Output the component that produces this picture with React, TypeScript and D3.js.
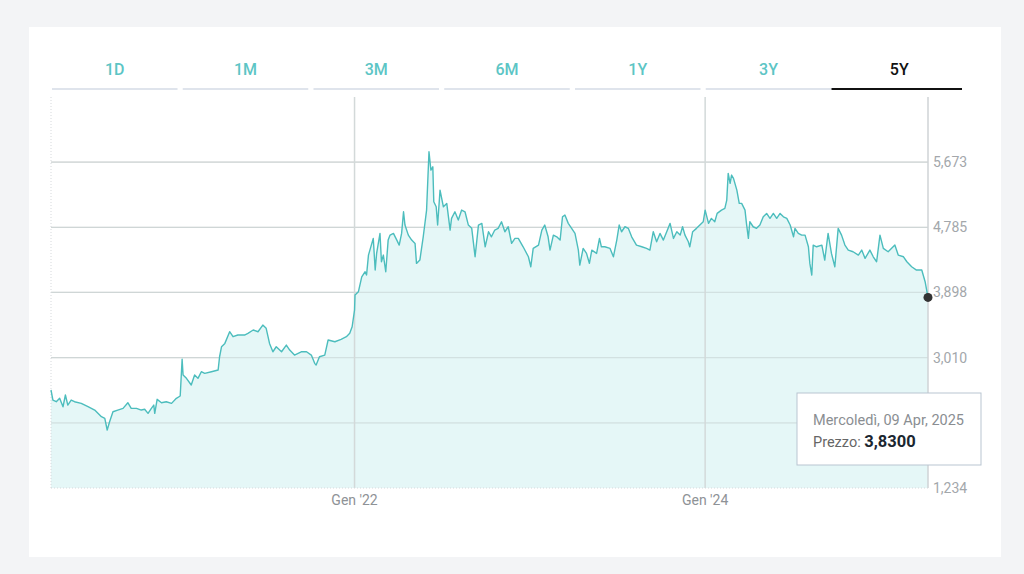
import { useEffect, useRef } from "react";
import * as d3 from "d3";

// Periods shown in the tab bar
const PERIODS = ["1D", "1M", "3M", "6M", "1Y", "3Y", "5Y"];
const ACTIVE_PERIOD = "5Y";

// Price history (date, price)
const DATES = [
  "2020-04-09", "2020-04-13", "2020-04-20", "2020-04-27", "2020-05-04", "2020-05-09", "2020-05-14", "2020-05-21", "2020-05-28", "2020-06-11",
  "2020-06-25", "2020-07-09", "2020-07-23", "2020-07-30", "2020-08-04", "2020-08-09", "2020-08-16", "2020-08-26", "2020-09-06", "2020-09-16",
  "2020-09-23", "2020-10-04", "2020-10-14", "2020-10-21", "2020-10-28", "2020-11-04", "2020-11-09", "2020-11-11", "2020-11-16", "2020-11-25",
  "2020-12-05", "2020-12-16", "2020-12-26", "2021-01-03", "2021-01-07", "2021-01-09", "2021-01-16", "2021-01-26", "2021-02-02", "2021-02-09",
  "2021-02-16", "2021-02-23", "2021-03-09", "2021-03-23", "2021-03-26", "2021-03-30", "2021-04-06", "2021-04-16", "2021-04-23", "2021-05-03",
  "2021-05-17", "2021-05-24", "2021-06-04", "2021-06-14", "2021-06-24", "2021-07-01", "2021-07-08", "2021-07-15", "2021-07-22", "2021-08-02",
  "2021-08-12", "2021-08-19", "2021-08-29", "2021-09-12", "2021-09-23", "2021-10-03", "2021-10-10", "2021-10-13", "2021-10-20", "2021-10-31",
  "2021-11-07", "2021-11-21", "2021-12-04", "2021-12-15", "2021-12-22", "2021-12-27", "2022-01-01",
  "2022-01-02", "2022-01-09", "2022-01-16", "2022-01-23", "2022-01-26", "2022-01-30", "2022-02-02", "2022-02-09", "2022-02-13", "2022-02-16",
  "2022-02-23", "2022-02-26", "2022-03-02", "2022-03-07", "2022-03-12", "2022-03-16", "2022-03-23", "2022-03-30", "2022-04-04", "2022-04-09",
  "2022-04-13", "2022-04-16", "2022-04-23", "2022-04-30", "2022-05-07", "2022-05-10", "2022-05-17", "2022-05-24", "2022-05-31", "2022-06-05",
  "2022-06-09", "2022-06-13", "2022-06-15", "2022-06-20", "2022-06-23", "2022-06-28", "2022-07-05", "2022-07-12", "2022-07-19", "2022-07-22",
  "2022-07-29", "2022-08-05", "2022-08-12", "2022-08-19", "2022-08-26", "2022-09-02", "2022-09-09", "2022-09-16", "2022-09-23", "2022-09-30",
  "2022-10-07", "2022-10-13", "2022-10-20", "2022-10-27", "2022-11-03", "2022-11-10", "2022-11-17", "2022-11-24", "2022-12-01", "2022-12-08",
  "2022-12-18", "2022-12-29", "2023-01-03", "2023-01-08", "2023-01-19", "2023-01-26", "2023-02-01", "2023-02-08", "2023-02-12", "2023-02-19",
  "2023-02-26", "2023-03-05", "2023-03-10", "2023-03-15", "2023-03-22", "2023-03-29", "2023-04-05", "2023-04-12", "2023-04-15", "2023-04-22",
  "2023-04-29", "2023-05-05", "2023-05-10", "2023-05-20", "2023-05-26", "2023-05-30", "2023-06-06", "2023-06-17", "2023-06-24", "2023-07-01",
  "2023-07-06", "2023-07-11", "2023-07-18", "2023-07-25", "2023-08-01", "2023-08-11", "2023-08-22", "2023-09-01", "2023-09-08",
  "2023-09-15", "2023-09-22", "2023-09-29", "2023-10-06", "2023-10-13", "2023-10-20", "2023-10-27", "2023-11-03", "2023-11-10", "2023-11-15",
  "2023-11-20", "2023-11-27", "2023-11-30", "2023-12-06", "2023-12-14", "2023-12-21", "2023-12-28", "2024-01-01", "2024-01-08", "2024-01-14",
  "2024-01-21", "2024-01-26", "2024-02-04", "2024-02-11", "2024-02-15", "2024-02-18", "2024-02-22", "2024-02-25", "2024-02-29", "2024-03-07",
  "2024-03-12", "2024-03-17", "2024-03-24", "2024-03-27", "2024-03-31", "2024-04-03", "2024-04-10", "2024-04-17", "2024-04-24", "2024-05-01",
  "2024-05-08", "2024-05-15", "2024-05-22", "2024-05-29", "2024-06-05", "2024-06-12", "2024-06-19", "2024-06-26", "2024-07-03", "2024-07-06",
  "2024-07-13", "2024-07-20", "2024-07-27", "2024-08-03", "2024-08-06", "2024-08-10", "2024-08-13", "2024-08-20", "2024-08-31", "2024-09-06",
  "2024-09-13", "2024-09-20", "2024-09-27", "2024-10-04", "2024-10-11", "2024-10-18", "2024-10-25", "2024-11-04", "2024-11-15", "2024-11-22",
  "2024-11-29", "2024-12-09", "2024-12-16", "2024-12-23", "2024-12-30", "2025-01-06", "2025-01-16", "2025-01-30", "2025-02-06", "2025-02-17",
  "2025-02-24", "2025-03-06", "2025-03-16", "2025-03-27", "2025-04-03", "2025-04-09",
];

const PRICES = [
  2.569, 2.432, 2.409, 2.456, 2.341, 2.501, 2.364, 2.432, 2.409, 2.387,
  2.341, 2.296, 2.205, 2.183, 2.024, 2.137, 2.273, 2.296, 2.319, 2.396,
  2.319, 2.319, 2.296, 2.306, 2.251, 2.319, 2.364, 2.251, 2.442, 2.396,
  2.409, 2.387, 2.456, 2.487, 2.987, 2.773, 2.728, 2.637, 2.773, 2.728,
  2.818, 2.796, 2.818, 2.841, 3.022, 3.158, 3.204, 3.363, 3.295, 3.318,
  3.318, 3.341, 3.386, 3.363, 3.454, 3.409, 3.204, 3.090, 3.158, 3.090,
  3.181, 3.113, 3.045, 3.090, 3.090, 3.045, 2.932, 2.909, 3.022, 3.045,
  3.250, 3.226, 3.259, 3.295, 3.341, 3.431, 3.658,
  3.862, 3.907, 4.111, 4.180, 4.135, 4.407, 4.475, 4.634, 4.203, 4.430,
  4.702, 4.316, 4.407, 4.180, 4.611, 4.679, 4.702, 4.611, 4.543, 4.702,
  4.997, 4.816, 4.679, 4.611, 4.566, 4.294, 4.339, 4.656, 5.020, 5.814,
  5.565, 5.610, 5.133, 5.065, 4.816, 5.292, 5.065, 5.111, 4.748, 4.907,
  4.997, 4.884, 5.020, 4.997, 4.816, 4.771, 4.384, 4.816, 4.839, 4.520,
  4.725, 4.656, 4.748, 4.771, 4.861, 4.725, 4.793, 4.566, 4.634, 4.634,
  4.520, 4.384, 4.248, 4.498, 4.543, 4.748, 4.816, 4.656, 4.475, 4.679,
  4.656, 4.611, 4.929, 4.952, 4.839, 4.771, 4.702, 4.475, 4.271, 4.498,
  4.430, 4.294, 4.475, 4.430, 4.634, 4.520, 4.520, 4.498, 4.384, 4.611,
  4.816, 4.725, 4.793, 4.771, 4.656, 4.543, 4.520, 4.498, 4.475,
  4.725, 4.589, 4.702, 4.611, 4.725, 4.839, 4.634, 4.725, 4.679, 4.793,
  4.679, 4.589, 4.520, 4.725, 4.771, 4.816, 4.861, 5.020, 4.839, 4.907,
  4.861, 4.975, 5.020, 5.043, 5.156, 5.520, 5.384, 5.497, 5.452, 5.292,
  5.111, 5.111, 5.020, 4.839, 4.634, 4.861, 4.793, 4.771, 4.816, 4.929,
  4.975, 4.907, 4.975, 4.907, 4.975, 4.929, 4.907, 4.816, 4.656, 4.771,
  4.702, 4.679, 4.679, 4.520, 4.294, 4.135, 4.543, 4.520, 4.543, 4.339,
  4.702, 4.430, 4.248, 4.771, 4.679, 4.543, 4.475, 4.452, 4.407, 4.475,
  4.362, 4.475, 4.384, 4.316, 4.679, 4.498, 4.452, 4.543, 4.407, 4.384,
  4.316, 4.248, 4.203, 4.203, 4.044, 3.83,
];

const Y_TICKS = [1.234, 2.122, 3.010, 3.898, 4.785, 5.673];
// 2,122 sits under the tooltip, so its label is not drawn
const Y_LABELS = [1.234, 3.010, 3.898, 4.785, 5.673];
const X_TICKS = ["2022-01-01", "2024-01-01"];
const X_DOMAIN = ["2020-04-09", "2025-04-09"];
const Y_DOMAIN = [1.234, 6.5605];

const TOOLTIP_DATE = "Mercoledì, 09 Apr, 2025";
const TOOLTIP_LABEL = "Prezzo:";

const TEAL = "#4cbdbd";
const FONT = "Roboto, 'Noto Sans', sans-serif";

const itLocale = d3.formatLocale({ decimal: ",", thousands: ".", grouping: [3], currency: ["€", ""] });
const fmtTick = itLocale.format(".3f");
const fmtPrice = itLocale.format(".4f");
const monthsIt = ["Gen", "Feb", "Mar", "Apr", "Mag", "Giu", "Lug", "Ago", "Set", "Ott", "Nov", "Dic"];

export default function App() {
  const svgRef = useRef<SVGSVGElement>(null);

  useEffect(() => {
    if (!svgRef.current) return;
    const svg = d3.select(svgRef.current);
    svg.selectAll("*").remove();

    const parse = d3.utcParse("%Y-%m-%d");
    const data = DATES.map((d, i) => ({ date: parse(d)!, value: PRICES[i] }));

    const plot = { left: 51, right: 928, top: 97, bottom: 488 };

    // page + card
    svg.append("rect").attr("width", 1024).attr("height", 574).attr("fill", "#f3f4f6");
    svg.append("rect").attr("x", 29).attr("y", 27).attr("width", 972).attr("height", 530).attr("fill", "#fff");

    // tabs
    const tabX = d3.scaleBand().domain(PERIODS).range([52, 962]).paddingInner(0.04);
    const tabs = svg.append("g").selectAll("g").data(PERIODS).join("g");
    tabs.append("rect")
      .attr("x", (d) => tabX(d)! - (d === ACTIVE_PERIOD ? 5 : 0))
      .attr("y", 88)
      .attr("width", (d) => tabX.bandwidth() + (d === ACTIVE_PERIOD ? 5 : 0))
      .attr("height", 2)
      .attr("fill", (d) => (d === ACTIVE_PERIOD ? "#111" : "#dfe4ec"));
    tabs.append("text")
      .attr("x", (d) => tabX(d)! + tabX.bandwidth() / 2)
      .attr("y", 75)
      .attr("text-anchor", "middle")
      .attr("font-family", FONT)
      .attr("font-size", 16)
      .attr("font-weight", 500)
      .attr("fill", (d) => (d === ACTIVE_PERIOD ? "#111" : "#5cc5c5"))
      .text((d) => d);

    const x = d3.scaleUtc().domain(X_DOMAIN.map((d) => parse(d)!)).range([plot.left, plot.right]);
    const y = d3.scaleLinear().domain(Y_DOMAIN).range([plot.bottom, plot.top]);

    // horizontal grid
    svg.append("g").selectAll("line").data(Y_TICKS.slice(1)).join("line")
      .attr("x1", plot.left).attr("x2", plot.right)
      .attr("y1", (d) => y(d)).attr("y2", (d) => y(d))
      .attr("stroke", "#dadada").attr("stroke-width", 1.2);

    // area + line
    const area = d3.area<{ date: Date; value: number }>()
      .x((d) => x(d.date)).y0(plot.bottom).y1((d) => y(d.value));
    const line = d3.line<{ date: Date; value: number }>()
      .x((d) => x(d.date)).y((d) => y(d.value));

    svg.append("path").datum(data).attr("d", area).attr("fill", "#e2f6f6").attr("fill-opacity", 0.9);

    // grid lines drawn over the fill
    svg.append("g").selectAll("line").data(Y_TICKS.slice(1)).join("line")
      .attr("x1", plot.left).attr("x2", plot.right)
      .attr("y1", (d) => y(d)).attr("y2", (d) => y(d))
      .attr("stroke", "#c8d4d4").attr("stroke-opacity", 0.6).attr("stroke-width", 1.2);

    svg.append("g").selectAll("line").data(X_TICKS).join("line")
      .attr("x1", (d) => x(parse(d)!)).attr("x2", (d) => x(parse(d)!))
      .attr("y1", plot.top).attr("y2", plot.bottom)
      .attr("stroke", "#d3d9d9").attr("stroke-width", 1.5);

    // plot frame: right axis line, dotted left/bottom
    svg.append("line").attr("x1", plot.right).attr("x2", plot.right).attr("y1", plot.top).attr("y2", plot.bottom)
      .attr("stroke", "#cfd3d6").attr("stroke-width", 1.5);
    svg.append("line").attr("x1", plot.left).attr("x2", plot.left).attr("y1", plot.top).attr("y2", plot.bottom)
      .attr("stroke", "#d6d9dc").attr("stroke-dasharray", "1,2");
    svg.append("line").attr("x1", plot.left).attr("x2", plot.right).attr("y1", plot.bottom).attr("y2", plot.bottom)
      .attr("stroke", "#d6d9dc").attr("stroke-dasharray", "1,2");

    svg.append("path").datum(data).attr("d", line)
      .attr("fill", "none").attr("stroke", TEAL).attr("stroke-width", 1.4).attr("stroke-linejoin", "round");

    // y tick labels
    svg.append("g").selectAll("text").data(Y_LABELS).join("text")
      .attr("x", 933).attr("y", (d) => y(d)).attr("dy", "0.35em")
      .attr("font-family", FONT).attr("font-size", 14).attr("fill", "#a3a7ab")
      .text((d) => fmtTick(d));

    // x tick labels
    svg.append("g").selectAll("text").data(X_TICKS).join("text")
      .attr("x", (d) => x(parse(d)!)).attr("y", 505).attr("text-anchor", "middle")
      .attr("font-family", FONT).attr("font-size", 14).attr("fill", "#8e9296")
      .text((d) => {
        const dt = parse(d)!;
        return `${monthsIt[dt.getUTCMonth()]} '${String(dt.getUTCFullYear()).slice(2)}`;
      });

    // last point marker
    const last = data[data.length - 1];
    svg.append("circle").attr("cx", x(last.date)).attr("cy", y(last.value)).attr("r", 4.5).attr("fill", "#333");

    // tooltip
    const tip = svg.append("g").attr("transform", "translate(797,393)");
    tip.append("rect").attr("width", 184).attr("height", 72).attr("fill", "#fff")
      .attr("stroke", "#b9c5d1").attr("stroke-width", 1);
    tip.append("text").attr("x", 16).attr("y", 32)
      .attr("font-family", FONT).attr("font-size", 14.5).attr("fill", "#8a8e92").text(TOOLTIP_DATE);
    const t2 = tip.append("text").attr("x", 16).attr("y", 54).attr("font-family", FONT);
    t2.append("tspan").attr("font-size", 14.5).attr("fill", "#666").text(TOOLTIP_LABEL + " ");
    t2.append("tspan").attr("font-size", 16.5).attr("font-weight", 700).attr("fill", "#1b2630").text(fmtPrice(last.value));
  }, []);

  return (
    <div style={{ position: "fixed", left: 0, top: 0, width: 1024, height: 574 }}>
      <svg ref={svgRef} width={1024} height={574} style={{ display: "block" }} />
    </div>
  );
}
